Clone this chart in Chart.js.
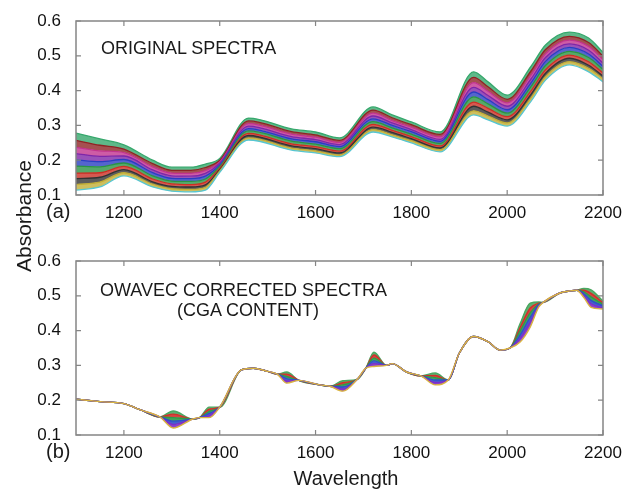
<!DOCTYPE html>
<html>
<head>
<meta charset="utf-8">
<title>Spectra</title>
<script src="https://cdn.jsdelivr.net/npm/chart.js@4.4.1/dist/chart.umd.min.js"></script>
<style>
  body { margin: 0; background: #fff; }
  #wrap { position: relative; width: 623px; height: 490px; font-family: 'Liberation Sans', Arial, sans-serif; color: #1a1a1a; }
  canvas { position: absolute; left: 0; }
  .lbl { position: absolute; white-space: nowrap; line-height: 1; }
</style>
</head>
<body>
<div id="wrap">
  <canvas id="panelA" width="623" height="240" style="top:0"></canvas>
  <canvas id="panelB" width="623" height="250" style="top:240px"></canvas>
  <div class="lbl" style="left:101px;top:39px;font-size:18px">ORIGINAL SPECTRA</div>
  <div class="lbl" style="left:100px;top:281px;font-size:18px">OWAVEC CORRECTED SPECTRA</div>
  <div class="lbl" style="left:177px;top:301px;font-size:18px">(CGA CONTENT)</div>
  <div class="lbl" style="left:46px;top:201px;font-size:20px">(a)</div>
  <div class="lbl" style="left:46px;top:441px;font-size:20px">(b)</div>
  <div class="lbl" style="left:23px;top:216px;font-size:21px;transform:translate(-50%,-50%) rotate(-90deg)">Absorbance</div>
  <div class="lbl" style="left:346px;top:478px;font-size:20px;transform:translate(-50%,-50%)">Wavelength</div>
</div>
<script>
// tick labels
const xTicks = [1200, 1400, 1600, 1800, 2000, 2200];
const yTicks = [0.1, 0.2, 0.3, 0.4, 0.5, 0.6];

// (a) original spectra, lowest to highest
const wlA = [1100, 1150, 1200, 1260, 1300, 1340, 1370, 1400, 1460, 1550, 1600, 1650, 1720, 1760, 1800, 1860, 1930, 1960, 2000, 2050, 2080, 2130, 2170, 2200];
const origA0 = [.114, .123, .155, .123, .111, .109, .114, .165, .258, .229, .221, .210, .281, .267, .250, .224, .330, .316, .298, .370, .430, .474, .454, .425];
const origA1 = [.130, .137, .164, .131, .118, .116, .122, .169, .264, .235, .227, .215, .288, .273, .256, .230, .342, .327, .307, .380, .440, .483, .464, .434];
const origA2 = [.147, .151, .173, .138, .125, .123, .129, .173, .271, .241, .233, .221, .295, .280, .262, .235, .355, .338, .316, .390, .450, .493, .473, .442];
const origA3 = [.163, .164, .182, .146, .132, .130, .137, .177, .277, .247, .239, .226, .303, .286, .268, .241, .367, .349, .325, .400, .460, .502, .483, .451];
const origA4 = [.183, .181, .192, .155, .140, .139, .146, .182, .284, .255, .246, .233, .311, .293, .275, .248, .382, .362, .335, .412, .472, .513, .495, .461];
const origA5 = [.201, .196, .202, .164, .148, .147, .154, .186, .291, .261, .253, .239, .319, .300, .282, .254, .396, .374, .345, .423, .484, .524, .505, .470];
const origA6 = [.219, .211, .212, .172, .155, .154, .162, .191, .298, .268, .259, .245, .327, .307, .288, .260, .409, .386, .355, .434, .495, .534, .516, .479];
const origA7 = [.237, .227, .222, .181, .163, .162, .170, .195, .305, .275, .266, .251, .335, .314, .295, .267, .423, .398, .365, .445, .506, .545, .527, .489];
const origA8 = [.257, .243, .232, .190, .171, .171, .179, .200, .313, .282, .273, .257, .344, .322, .302, .274, .438, .411, .375, .457, .518, .556, .538, .499];
const origA9 = [.278, .261, .244, .200, .180, .180, .189, .205, .321, .290, .281, .264, .353, .330, .310, .281, .454, .425, .387, .470, .531, .568, .551, .510];

// (b) OWAVEC corrected spectra, lowest to highest
const wlB = [1100, 1150, 1200, 1235, 1275, 1303, 1344, 1358, 1378, 1400, 1445, 1470, 1500, 1520, 1540, 1565, 1609, 1630, 1657, 1687, 1705, 1722, 1748, 1760, 1790, 1820, 1850, 1877, 1900, 1930, 1960, 1985, 2006, 2027, 2048, 2066, 2075, 2110, 2131, 2145, 2160, 2175, 2200];
const corrB0 = [.203, .196, .190, .172, .152, .120, .146, .150, .150, .180, .287, .292, .283, .275, .249, .257, .244, .240, .226, .260, .292, .297, .300, .305, .281, .270, .244, .258, .335, .383, .368, .344, .350, .367, .410, .468, .481, .508, .514, .516, .495, .467, .462];
const corrB1 = [.203, .196, .190, .172, .152, .130, .146, .150, .156, .180, .287, .292, .283, .275, .255, .257, .244, .240, .232, .260, .292, .305, .300, .305, .281, .270, .251, .258, .335, .383, .368, .344, .350, .378, .424, .471, .481, .508, .514, .516, .500, .477, .466];
const corrB2 = [.203, .196, .190, .172, .152, .140, .146, .150, .162, .180, .287, .292, .283, .275, .262, .257, .244, .240, .238, .260, .292, .313, .300, .305, .281, .270, .258, .258, .335, .383, .368, .344, .350, .388, .438, .474, .481, .508, .514, .516, .506, .487, .471];
const corrB3 = [.203, .196, .190, .172, .152, .150, .146, .150, .168, .180, .287, .292, .283, .275, .268, .257, .244, .240, .244, .260, .292, .321, .300, .305, .281, .270, .265, .258, .335, .383, .368, .344, .350, .399, .451, .476, .481, .508, .514, .516, .511, .497, .475];
const corrB4 = [.203, .196, .190, .172, .152, .160, .146, .150, .174, .180, .287, .292, .283, .275, .275, .257, .244, .240, .250, .260, .292, .330, .300, .305, .281, .270, .271, .258, .335, .383, .368, .344, .350, .409, .465, .479, .481, .508, .514, .516, .516, .507, .480];
const corrB5 = [.203, .196, .190, .172, .152, .169, .146, .150, .180, .180, .287, .292, .283, .275, .281, .257, .244, .240, .256, .260, .292, .338, .300, .305, .281, .270, .278, .258, .335, .383, .368, .344, .350, .420, .479, .482, .481, .508, .514, .516, .521, .517, .485];

const colorsA = ['#56c6d2', '#c2ae36', '#333333', '#cc2f24', '#2a9444', '#2a3ec2', '#7f26a8', '#c2338f', '#8e2424', '#36a86c'];
const colorsB = ['#d9b440', '#7d2fc8', '#3050c8', '#2e9a48', '#d0302a', '#4aa860'];

const tickFont = { family: "'Liberation Sans', Arial, sans-serif", size: 17 };

// frame with inward tick marks on all four sides
const frame = {
  id: 'frame',
  afterDraw(chart) {
    const { ctx, chartArea: a, scales: { x, y } } = chart;
    ctx.save();
    ctx.strokeStyle = '#858585';
    ctx.lineWidth = 1.5;
    ctx.strokeRect(a.left, a.top, a.right - a.left, a.bottom - a.top);
    ctx.lineWidth = 1.2;
    ctx.beginPath();
    x.ticks.forEach(t => {
      const px = x.getPixelForValue(t.value);
      ctx.moveTo(px, a.bottom); ctx.lineTo(px, a.bottom - 5);
      ctx.moveTo(px, a.top); ctx.lineTo(px, a.top + 5);
    });
    y.ticks.forEach(t => {
      const py = y.getPixelForValue(t.value);
      ctx.moveTo(a.left, py); ctx.lineTo(a.left + 5, py);
      ctx.moveTo(a.right, py); ctx.lineTo(a.right - 5, py);
    });
    ctx.stroke();
    ctx.restore();
  }
};

function hexA(hex, a) {
  const n = parseInt(hex.slice(1), 16);
  return `rgba(${n >> 16},${(n >> 8) & 255},${n & 255},${a})`;
}

function makePanel(id, wl, series, colors, axisHeight, lw, alpha) {
  const datasets = series.map((vals, i) => ({
    data: vals.map((v, j) => ({ x: wl[j], y: v })),
    borderColor: colors[i],
    backgroundColor: hexA(colors[i], alpha),
    borderWidth: lw,
    pointRadius: 0,
    cubicInterpolationMode: 'monotone',
    fill: i === 0 ? false : '-1'
  }));
  return new Chart(document.getElementById(id), {
    type: 'line',
    data: { datasets },
    options: {
      responsive: false,
      animation: false,
      layout: { padding: { top: 21, right: 20, left: 0, bottom: 0 } },
      plugins: { legend: { display: false }, tooltip: { enabled: false } },
      scales: {
        x: {
          type: 'linear', min: 1100, max: 2200,
          afterBuildTicks: s => { s.ticks = xTicks.map(v => ({ value: v })); },
          afterFit: s => { s.height = axisHeight; },
          grid: { display: false }, border: { display: false },
          ticks: { font: tickFont, color: '#111', padding: 0, maxRotation: 0, callback: v => String(v) }
        },
        y: {
          min: 0.1, max: 0.6,
          afterBuildTicks: s => { s.ticks = yTicks.map(v => ({ value: v })); },
          afterFit: s => { s.width = 76; },
          grid: { display: false }, border: { display: false },
          ticks: { font: tickFont, color: '#111', padding: 7, callback: v => v.toFixed(1) }
        }
      }
    },
    plugins: [frame]
  });
}

makePanel('panelA', wlA, [origA0, origA1, origA2, origA3, origA4, origA5, origA6, origA7, origA8, origA9], colorsA, 45, 1.3, 0.8);
makePanel('panelB', wlB, [corrB0, corrB1, corrB2, corrB3, corrB4, corrB5], colorsB, 55, 1.4, 0.9);
</script>
</body>
</html>
